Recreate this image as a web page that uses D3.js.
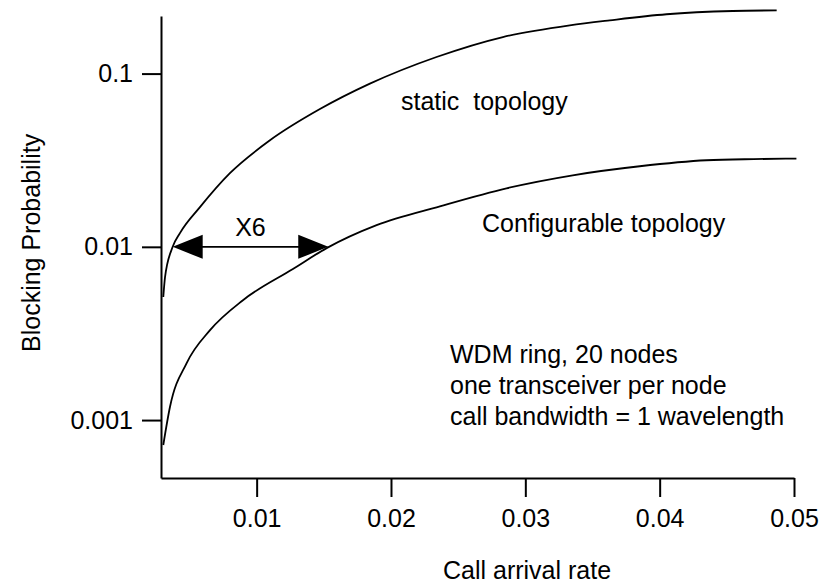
<!DOCTYPE html>
<meta charset="utf-8">
<script src="https://d3js.org/d3.v7.min.js"></script>
<style>
  body { margin: 0; background: #fff; }
  text { font-family: "Liberation Sans", Arial, Helvetica, sans-serif; font-size: 25px; fill: #000; }
</style>
<div id="my_dataviz"></div>
<script>

// curve values (call arrival rate, blocking probability)
var staticRate  = [0.00305, 0.00318, 0.00375, 0.00429, 0.00578, 0.00801, 0.01099, 0.01471, 0.01843, 0.02339, 0.02833, 0.03331, 0.03629, 0.04051, 0.04544, 0.04871];
var staticBlock = [0.00513, 0.00668, 0.0100, 0.0120, 0.01694, 0.0266, 0.0412, 0.0624, 0.0875, 0.1247, 0.1626, 0.190, 0.203, 0.220, 0.2298, 0.2317];

var configRate  = [0.00305, 0.00355, 0.00479, 0.00653, 0.00898, 0.01270, 0.01521, 0.01893, 0.02364, 0.02860, 0.03353, 0.03852, 0.04348, 0.04700, 0.05018];
var configBlock = [0.000718, 0.001193, 0.002133, 0.003304, 0.00492, 0.00745, 0.00983, 0.01334, 0.01714, 0.02178, 0.02588, 0.02918, 0.0316, 0.0321, 0.0323];

var xTicks = [0.01, 0.02, 0.03, 0.04, 0.05];
var xTickLabels = ["0.01", "0.02", "0.03", "0.04", "0.05"];
var yTicks = [0.1, 0.01, 0.001];
var yTickLabels = ["0.1", "0.01", "0.001"];

// the "X6" arrow between the two curves at 0.01
var arrowRate = [0.00375, 0.01533];
var arrowBlock = 0.01;

var noteLines = ["WDM ring, 20 nodes", "one transceiver per node", "call bandwidth = 1 wavelength"];

var margin = {top: 16, right: 36, bottom: 105, left: 161},
    width = 830 - margin.left - margin.right,
    height = 583 - margin.top - margin.bottom;

var svg = d3.select("#my_dataviz")
  .append("svg")
    .attr("width", 830)
    .attr("height", 583)
  .append("g")
    .attr("transform", "translate(" + margin.left + "," + margin.top + ")");

var x = d3.scaleLinear()
  .domain([0.00288, 0.05])
  .range([0, width]);

var y = d3.scaleLog()
  .domain([0.000463, 0.215])
  .range([height, 0]);

// X axis
var xAxis = svg.append("g")
  .attr("transform", "translate(0," + height + ")")
  .call(d3.axisBottom(x)
    .tickValues(xTicks)
    .tickFormat(function(d, i) { return xTickLabels[i]; })
    .tickSize(19)
    .tickPadding(12)
    .tickSizeOuter(0));

// Y axis
var yAxis = svg.append("g")
  .call(d3.axisLeft(y)
    .tickValues(yTicks)
    .tickFormat(function(d, i) { return yTickLabels[i]; })
    .tickSize(19)
    .tickPadding(9)
    .tickSizeOuter(0));

[xAxis, yAxis].forEach(function(a) {
  a.select(".domain").attr("stroke", "#000").attr("stroke-width", 2);
  a.selectAll(".tick line").attr("stroke", "#000").attr("stroke-width", 2);
  a.selectAll(".tick text")
    .attr("fill", "#000")
    .style("font-size", "25px")
    .style("font-family", "'Liberation Sans', Arial, Helvetica, sans-serif");
});

// axis titles
svg.append("text")
  .attr("x", 443 - margin.left)
  .attr("y", 579 - margin.top)
  .text("Call arrival rate");

svg.append("text")
  .attr("transform", "translate(" + (40 - margin.left) + "," + (352 - margin.top) + ") rotate(-90)")
  .text("Blocking Probability");

// curves
var line = d3.line()
  .x(function(d) { return x(d[0]); })
  .y(function(d) { return y(d[1]); })
  .curve(d3.curveMonotoneX);

[[staticRate, staticBlock], [configRate, configBlock]].forEach(function(s) {
  svg.append("path")
    .datum(d3.zip(s[0], s[1]))
    .attr("fill", "none")
    .attr("stroke", "#000")
    .attr("stroke-width", 1.8)
    .attr("d", line);
});

// arrow
var ax0 = x(arrowRate[0]), ax1 = x(arrowRate[1]), ay = y(arrowBlock);
svg.append("line")
  .attr("x1", ax0 + 20).attr("x2", ax1 - 20)
  .attr("y1", ay).attr("y2", ay)
  .attr("stroke", "#000")
  .attr("stroke-width", 1.6);

svg.append("path")
  .attr("d", "M" + ax0 + "," + ay + "L" + (ax0 + 30) + "," + (ay - 12) + "L" + (ax0 + 30) + "," + (ay + 12) + "Z")
  .attr("fill", "#000");
svg.append("path")
  .attr("d", "M" + ax1 + "," + ay + "L" + (ax1 - 30) + "," + (ay - 12) + "L" + (ax1 - 30) + "," + (ay + 12) + "Z")
  .attr("fill", "#000");

svg.append("text")
  .attr("x", (ax0 + ax1) / 2)
  .attr("y", ay - 11)
  .style("text-anchor", "middle")
  .text("X6");

// curve labels
svg.append("text")
  .attr("x", 401 - margin.left)
  .attr("y", 110 - margin.top)
  .style("white-space", "pre")
  .text("static  topology");

svg.append("text")
  .attr("x", 482 - margin.left)
  .attr("y", 232 - margin.top)
  .text("Configurable topology");

// note
svg.append("g")
  .selectAll("text")
  .data(noteLines)
  .enter()
  .append("text")
    .attr("x", 450 - margin.left)
    .attr("y", function(d, i) { return 363 - margin.top + i * 31; })
    .text(function(d) { return d; });

</script>
